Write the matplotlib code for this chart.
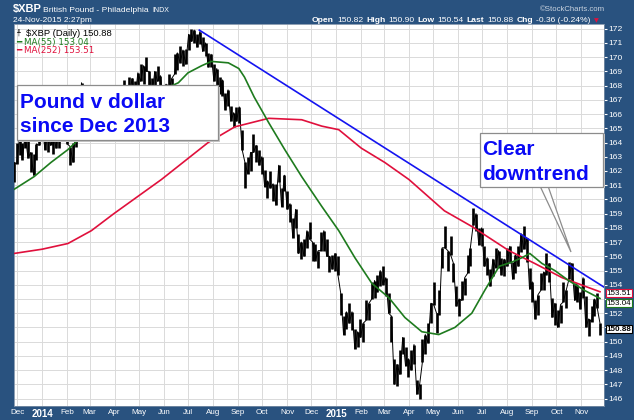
import matplotlib
matplotlib.use("Agg")
import matplotlib.pyplot as plt
import matplotlib.patches as patches
import pandas as pd

plt.rcParams["font.family"] = ["Liberation Sans", "DejaVu Sans"]

# $XBP twice-weekly highs / lows, late Nov 2013 -> 24 Nov 2015
highs = [
    162.6, 164.0,                                                   # Nov 13
    164.4, 164.0, 164.6, 164.3, 163.3, 163.2, 163.9, 164.6, 165.4,  # Dec 13
    165.0, 164.6, 164.9, 164.5, 164.7, 165.1, 166.7, 166.1, 165.4,  # Jan 14
    163.7, 164.0, 165.2, 167.2, 168.2, 167.4, 167.2, 167.6,         # Feb
    167.2, 167.9, 167.1, 166.9, 166.9, 165.8, 166.0, 166.8, 167.1,  # Mar
    166.8, 166.5, 168.4, 167.9, 168.6, 168.5, 168.3, 168.9,         # Apr
    169.5, 169.4, 170.0, 169.0, 168.5, 169.0, 169.4, 168.7, 167.9,  # May
    168.1, 168.8, 168.5, 170.2, 170.3, 170.8, 170.5, 170.6, 171.6,  # Jun
    172.0, 171.9, 171.6, 171.8, 171.4, 171.0, 170.3, 170.2, 169.5,  # Jul
    169.2, 168.6, 168.4, 167.5, 167.7, 166.6, 166.1, 166.5,         # Aug
    166.5, 164.9, 162.6, 163.0, 163.3, 164.6, 163.8, 163.5, 163.0,  # Sep
    162.1, 161.3, 162.0, 161.1, 161.1, 162.4, 160.8, 161.7, 160.6,  # Oct
    159.7, 158.7, 159.3, 157.6, 157.0, 157.2, 157.8, 158.4,         # Nov
    157.0, 156.9, 156.4, 157.7, 157.8, 157.2, 156.0, 156.1, 156.2,  # Dec
    156.0, 153.4, 151.8, 152.1, 152.7, 152.1, 150.9, 150.7, 151.6,  # Jan 15
    151.3, 152.9, 152.7, 154.2, 154.3, 154.7, 155.0, 155.3,         # Feb
    154.5, 153.4, 151.8, 148.8, 148.4, 149.4, 150.3, 149.6, 148.8,  # Mar
    149.4, 149.8, 147.3, 147.0, 150.2, 150.5, 151.3, 152.7, 154.2,  # Apr
    152.0, 153.6, 156.6, 158.1, 156.4, 157.4, 155.5, 153.9,         # May
    153.0, 154.3, 154.5, 156.1, 156.6, 159.4, 159.0, 158.0, 158.0,  # Jun
    156.7, 155.9, 155.1, 155.8, 156.6, 156.4, 155.9, 155.8, 156.6,  # Jul
    156.7, 155.6, 156.1, 156.7, 157.6, 158.1, 157.3, 155.2, 154.2,  # Aug
    152.9, 153.3, 154.8, 154.9, 156.2, 155.5, 153.1, 152.7,         # Sep
    152.2, 152.6, 154.2, 153.6, 155.6, 155.5, 154.1, 154.0, 153.5,  # Oct
    154.5, 153.2, 151.6, 152.5, 153.0, 153.4, 151.3,                # Nov
]
lows = [
    161.2, 162.5,
    163.1, 162.8, 163.6, 162.9, 161.9, 161.7, 162.8, 163.8, 164.3,
    163.5, 163.3, 163.8, 163.2, 163.6, 163.6, 165.0, 164.7, 163.9,
    162.4, 162.6, 163.7, 165.6, 166.9, 166.0, 166.0, 166.4,
    165.9, 166.6, 165.8, 165.6, 165.5, 164.4, 164.7, 165.5, 166.0,
    165.5, 165.2, 166.9, 166.7, 167.5, 167.3, 167.1, 167.7,
    168.3, 168.1, 169.0, 167.8, 167.3, 167.8, 168.3, 167.5, 166.8,
    166.9, 167.6, 167.4, 168.8, 169.1, 169.6, 169.4, 169.5, 170.5,
    171.1, 171.0, 170.7, 170.9, 170.4, 170.1, 169.3, 169.3, 168.3,
    168.0, 167.4, 167.3, 166.3, 166.6, 165.5, 165.1, 165.5,
    165.4, 163.5, 160.8, 161.8, 162.0, 163.3, 162.6, 162.4, 161.8,
    160.9, 160.1, 160.8, 159.9, 159.6, 161.2, 159.5, 160.6, 159.3,
    158.4, 157.3, 158.0, 156.2, 155.8, 156.0, 156.6, 157.2,
    155.7, 155.7, 155.2, 156.4, 156.4, 156.0, 154.9, 155.1, 155.0,
    154.7, 151.9, 150.5, 150.9, 151.3, 150.8, 149.5, 149.6, 150.3,
    150.0, 151.5, 151.5, 153.0, 153.1, 153.5, 153.9, 154.0,
    153.2, 152.0, 150.0, 147.0, 146.9, 147.7, 149.1, 148.3, 147.5,
    148.0, 148.4, 146.3, 146.0, 148.6, 149.1, 149.9, 151.3, 152.6,
    150.6, 151.9, 155.2, 156.6, 155.0, 156.1, 154.2, 152.5,
    151.8, 152.9, 153.3, 154.8, 155.3, 158.2, 157.8, 156.8, 156.7,
    155.3, 154.7, 153.9, 154.6, 155.2, 155.2, 154.7, 154.6, 155.3,
    155.5, 154.4, 154.8, 155.3, 156.3, 156.5, 155.6, 153.7, 152.8,
    151.6, 151.9, 153.6, 153.6, 154.7, 154.2, 151.7, 151.2,
    151.0, 151.3, 152.8, 152.4, 154.4, 154.3, 152.9, 152.8, 152.3,
    153.1, 151.0, 150.4, 151.4, 151.8, 152.4, 150.5,
]

ma55_dates = ["2013-11-27", "2013-12-22", "2014-01-12", "2014-02-02", "2014-02-15",
              "2014-03-15", "2014-04-15", "2014-05-15", "2014-06-19", "2014-07-01",
              "2014-07-18", "2014-07-30", "2014-08-20", "2014-09-02", "2014-09-09",
              "2014-09-21", "2014-10-09", "2014-10-29", "2014-11-19", "2014-12-14",
              "2015-01-04", "2015-01-24", "2015-02-14", "2015-03-07", "2015-03-27",
              "2015-04-17", "2015-05-08", "2015-05-28", "2015-06-18", "2015-07-04",
              "2015-07-22", "2015-08-07", "2015-08-19", "2015-08-29", "2015-09-13",
              "2015-09-29", "2015-10-16", "2015-11-05", "2015-11-24"]
ma55 = [160.7, 161.6, 162.6, 163.5, 164.2,
        165.2, 166.3, 167.3, 168.2, 168.9,
        169.4, 169.7, 169.6, 169.2, 168.6,
        167.2, 165.4, 163.5, 161.6, 159.5,
        157.8, 155.9, 154.1, 153.1, 151.7,
        150.7, 150.5, 151.0, 152.0, 153.6,
        155.3, 155.6, 155.9, 156.2, 155.5,
        155.0, 154.3, 153.6, 153.04]

ma252_dates = ["2013-11-27", "2014-01-01", "2014-02-02", "2014-03-03", "2014-03-31",
               "2014-05-29", "2014-07-26", "2014-08-28", "2014-10-09", "2014-11-19",
               "2014-12-14", "2015-01-04", "2015-02-01", "2015-03-02", "2015-04-01",
               "2015-04-29", "2015-05-15", "2015-06-18", "2015-08-03", "2015-09-04",
               "2015-10-08", "2015-11-10", "2015-11-24"]
ma252 = [156.2, 156.5, 156.9, 157.8, 159.0,
         161.4, 164.0, 165.1, 165.7, 165.6,
         165.15, 164.9, 163.6, 162.6, 161.4,
         160.0, 159.2, 158.1, 156.4, 155.5,
         154.5, 153.8, 153.51]

trend_dates = ["2014-07-15", "2015-11-30"]
trend = [171.9, 153.8]

last_close = 150.88

W, H = 634, 420
frame = "#29527f"

fig = plt.figure(figsize=(W / 100, H / 100), dpi=100, facecolor=frame)
ax = fig.add_axes([13.5 / W, 14.3 / H, 590.5 / W, 381.7 / H])
ax.set_facecolor("white")

bar_dates = pd.date_range("2013-11-27", "2015-11-24", periods=len(highs))
ax.vlines(bar_dates, lows, highs, color="black", linewidth=1.9, zorder=3)
# thin zig-zag between neighbouring bars so the band reads like daily prices
zig_x, zig_y = [], []
for i, d in enumerate(bar_dates):
    zig_x.append(d)
    zig_y.append(highs[i] if i % 2 == 0 else lows[i])
ax.plot(zig_x, zig_y, color="black", linewidth=0.7, zorder=3)

ax.plot(pd.to_datetime(ma252_dates), ma252, color="#e0103c", linewidth=1.2, zorder=4)
ax.plot(pd.to_datetime(ma55_dates), ma55, color="#1e7b1e", linewidth=1.2, zorder=4)
ax.plot(pd.to_datetime(trend_dates), trend, color="#1414f0", linewidth=1.2, zorder=5)

ax.set_xlim(pd.Timestamp("2013-11-26 12:00"), pd.Timestamp("2015-11-29"))
ax.set_ylim(145.5, 172.33)

# month grid / labels
months = pd.date_range("2013-12-01", "2015-11-01", freq="MS")
labels = [m.strftime("%Y") if m.month == 1 else m.strftime("%b") for m in months]
ax.set_xticks(months)
ax.set_xticklabels(labels)
for m, t in zip(months, ax.get_xticklabels()):
    t.set_color("white")
    if m.month == 1:
        t.set_fontsize(7)
        t.set_fontweight("bold")
    else:
        t.set_fontsize(5.8)
ax.tick_params(axis="x", length=0, pad=2.5)

# 151 and 153 sit under the value flags, so they stay blank as on the original
yt = list(range(146, 173))
ax.set_yticks(yt)
ax.set_yticklabels(["" if v in (151, 153) else str(v) for v in yt])
ax.yaxis.tick_right()
ax.tick_params(axis="y", colors="white", labelsize=6.1, length=2, pad=1)
ax.grid(True, color="#dadada", linewidth=0.7, zorder=0)
ax.set_axisbelow(True)
for s in ax.spines.values():
    s.set_color("#7a8ea6")
    s.set_linewidth(0.6)

# value flags on the price axis
for val, col, wt, dy in [(153.51, "#e0103c", "normal", -1.0), (153.04, "#1e7b1e", "normal", -3.5),
                         (last_close, "black", "bold", 0)]:
    ax.annotate(f"{val:.2f}", xy=(1.0, val), xycoords=("axes fraction", "data"),
                xytext=(2, dy), textcoords="offset points", va="center", ha="left",
                fontsize=5.8, fontweight=wt, color="black", zorder=10,
                annotation_clip=False,
                bbox=dict(boxstyle="square,pad=0.05", fc="white", ec=col, lw=0.8))

# legend in the plot corner
ax.text(0.022, 0.988, r"\$XBP (Daily) 150.88", transform=ax.transAxes,
        fontsize=6.8, va="top", color="black", zorder=8)
ax.text(0.005, 0.986, "╀", transform=ax.transAxes, fontsize=4.5, va="top",
        color="black", family=["DejaVu Sans"], zorder=8)
ax.text(0.004, 0.964, "━ MA(55) 153.04", transform=ax.transAxes, fontsize=6.3,
        va="top", color="#1e7b1e", family=["DejaVu Sans"], zorder=8)
ax.text(0.004, 0.942, "━ MA(252) 153.51", transform=ax.transAxes, fontsize=6.3,
        va="top", color="#e0103c", family=["DejaVu Sans"], zorder=8)


def px(x, y):
    return x / W, 1 - y / H


r = fig.canvas.get_renderer()

# header
fig.text(*px(13, 12), r"\$XBP", color="white", fontsize=8, fontweight="bold")
name = fig.text(*px(43, 12), "British Pound - Philadelphia", color="white", fontsize=6.1)
fig.text(*px(43 + name.get_window_extent(r).width + 4, 12), "INDX", color="white",
         fontsize=5)
fig.text(*px(13, 22), "24-Nov-2015 2:27pm", color="white", fontsize=6)
fig.text(*px(605, 11), "©StockCharts.com", color="#c9d3df", fontsize=5.6, ha="right")

parts = [("Open", True), ("150.82", False), ("High", True), ("150.90", False),
         ("Low", True), ("150.54", False), ("Last", True), ("150.88", False),
         ("Chg", True), ("-0.36 (-0.24%)", False)]
x = 312
for s, bold in parts:
    t = fig.text(*px(x, 22), s, color="white", fontsize=6.1,
                 fontweight="bold" if bold else "normal")
    x += t.get_window_extent(r).width + 3
fig.text(*px(x, 22), "▼", color="#e0103c", fontsize=4.5, family=["DejaVu Sans"])

# callout boxes
box_col = "#8c8c8c"
fig.patches.append(patches.Rectangle(px(19, 142), 201 / W, 55 / H, transform=fig.transFigure,
                                     fc="#c8c8c8", ec="none", zorder=20))
fig.patches.append(patches.Rectangle(px(17, 140), 201 / W, 55 / H, transform=fig.transFigure,
                                     fc="white", ec=box_col, lw=0.9, zorder=21))
fig.text(*px(20, 107.5), "Pound v dollar", color="#0a0af5", fontsize=15,
         fontweight="bold", zorder=22)
fig.text(*px(20, 131.5), "since Dec 2013", color="#0a0af5", fontsize=15,
         fontweight="bold", zorder=22)

fig.patches.append(patches.Polygon([px(540, 186), px(548, 186), px(571, 252)],
                                   closed=True, transform=fig.transFigure,
                                   fc="white", ec=box_col, lw=0.9, zorder=20))
fig.patches.append(patches.Rectangle(px(482, 188.5), 123 / W, 54 / H, transform=fig.transFigure,
                                     fc="#c8c8c8", ec="none", zorder=20))
fig.patches.append(patches.Rectangle(px(480, 186.5), 123 / W, 54 / H, transform=fig.transFigure,
                                     fc="white", ec=box_col, lw=0.9, zorder=21))
fig.text(*px(482, 155), "Clear", color="#0a0af5", fontsize=15, fontweight="bold", zorder=22)
fig.text(*px(482, 179.5), "downtrend", color="#0a0af5", fontsize=15, fontweight="bold",
         zorder=22)

fig.savefig("out.png", dpi=100, facecolor=frame)
